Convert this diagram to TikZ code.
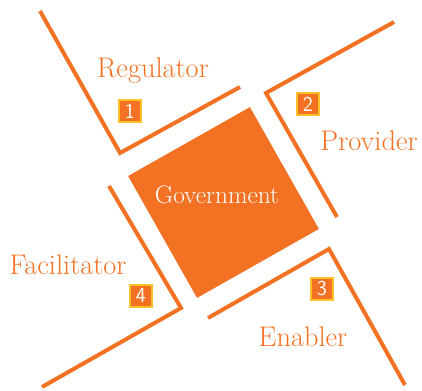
\documentclass[tikz,border=0pt]{standalone}
\begin{document}
\begin{tikzpicture}[x=0.75pt,y=-0.75pt]
            \definecolor{role_color}{RGB}{243,113,34}
            \definecolor{rim_color}{RGB}{255,192,40}
            \tikzstyle{every node} = [inner sep=0pt]
            \tikzstyle{role} = [text=role_color, font=\fontsize{21.3}{24}\selectfont]
            \tikzstyle{num} = [draw=rim_color, line width=1.3pt, fill=role_color, text=white, minimum size=16.2pt, font=\sffamily\fontsize{16}{18}\selectfont]
            \tikzstyle{arm} = [draw=role_color, line width=3pt]
            \useasboundingbox (0,0) rectangle (422,391);
            \node[fill=role_color, minimum size=105pt, rotate=29.5] (gov) at (223.5,202.5) {};
            \node[text=white, font=\fontsize{19}{22}\selectfont] (govtext) at (217,195) {Government};
            \coordinate (a0) at (40,11);   \coordinate (a1) at (120,153); \coordinate (a2) at (240,87);
            \coordinate (b0) at (394,22);  \coordinate (b1) at (266,93);  \coordinate (b2) at (337,217);
            \coordinate (c0) at (208,318); \coordinate (c1) at (329,249); \coordinate (c2) at (405,385);
            \coordinate (d0) at (109,186); \coordinate (d1) at (181,308); \coordinate (d2) at (42,387);
            \draw[arm] (a0) -- (a1) -- (a2);
            \draw[arm] (b0) -- (b1) -- (b2);
            \draw[arm] (c0) -- (c1) -- (c2);
            \draw[arm] (d0) -- (d1) -- (d2);
            \node[role] (reg) at (153,71) {Regulator};
            \node[role] (pro) at (369,141) {Provider};
            \node[role] (ena) at (303,337) {Enabler};
            \node[role] (fac) at (68,265) {Facilitator};
            \node[num] (n1) at (130,111) {1};
            \node[num] (n2) at (308,104) {2};
            \node[num] (n3) at (322,289) {3};
            \node[num] (n4) at (141,296) {4};
        \end{tikzpicture}
\end{document}
